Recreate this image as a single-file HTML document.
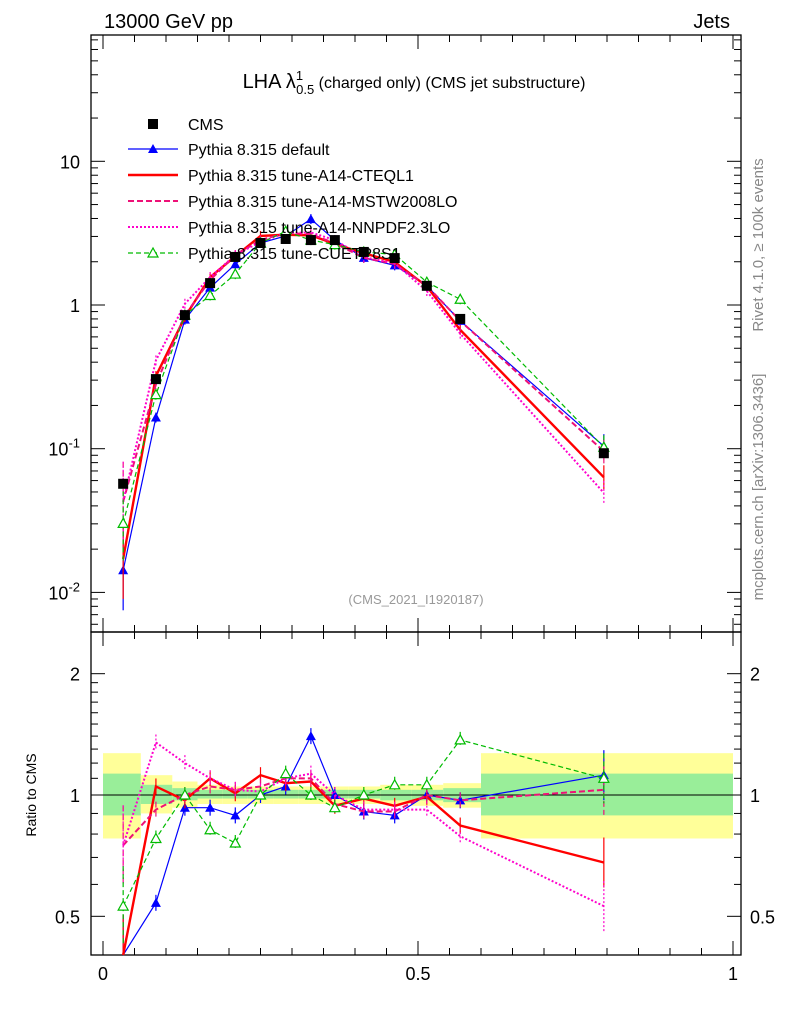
<!DOCTYPE html>
<html><head><meta charset="utf-8"><style>
body{margin:0;background:#fff;font-family:"Liberation Sans",sans-serif}
svg text{font-family:"Liberation Sans",sans-serif}
</style></head><body>
<svg id="c" width="786" height="1024" xmlns="http://www.w3.org/2000/svg">
<text x="104" y="28" font-size="20">13000 GeV pp</text>
<text x="730" y="28" font-size="20" text-anchor="end">Jets</text>
<text x="414" y="88" font-size="20" text-anchor="middle">LHA λ<tspan font-size="13" dy="-8">1</tspan><tspan font-size="13" dx="-7" dy="14">0.5</tspan><tspan font-size="16" dy="-6"> (charged only) (CMS jet substructure)</tspan></text>
<text x="416" y="604" font-size="13" fill="#999" text-anchor="middle">(CMS_2021_I1920187)</text>
<text transform="translate(763,245) rotate(-90)" font-size="15" fill="#888" text-anchor="middle">Rivet 4.1.0, ≥ 100k events</text>
<text transform="translate(763,487) rotate(-90)" font-size="15" fill="#888" text-anchor="middle">mcplots.cern.ch [arXiv:1306.3436]</text>
<text transform="translate(36,795) rotate(-90)" font-size="14" text-anchor="middle">Ratio to CMS</text>
<g id="g"></g>
</svg>
<script>
const xCenters=[0.032,0.084,0.13,0.17,0.21,0.25,0.29,0.33,0.368,0.414,0.463,0.514,0.567,0.795];
const binEdges=[0,0.06,0.11,0.15,0.19,0.23,0.27,0.31,0.35,0.39,0.44,0.49,0.54,0.6,1.0];
const cmsValues=[0.057,0.305,0.85,1.42,2.16,2.7,2.88,2.83,2.83,2.34,2.12,1.36,0.8,0.093];
const bandYellowHi=[1.27,1.12,1.08,1.06,1.05,1.05,1.05,1.05,1.05,1.05,1.06,1.06,1.07,1.27];
const bandYellowLo=[0.78,0.9,0.93,0.95,0.95,0.95,0.95,0.95,0.95,0.95,0.95,0.94,0.93,0.78];
const bandGreenHi=[1.13,1.06,1.04,1.03,1.03,1.03,1.03,1.03,1.03,1.03,1.03,1.03,1.04,1.13];
const bandGreenLo=[0.89,0.95,0.97,0.98,0.98,0.98,0.98,0.98,0.98,0.98,0.97,0.97,0.96,0.89];
const ratioDefault=[0.25,0.54,0.93,0.93,0.89,1.0,1.05,1.4,1.0,0.91,0.89,1.0,0.97,1.12];
const ratioCTEQ=[0.3,1.05,0.97,1.1,1.01,1.12,1.07,1.08,0.94,0.98,0.94,0.99,0.84,0.68];
const ratioMSTW=[0.75,0.92,1.0,1.05,1.03,1.05,1.1,1.1,0.95,0.91,0.91,1.0,0.97,1.03];
const ratioNNPDF=[0.75,1.35,1.2,1.1,1.03,1.02,1.1,1.13,1.0,0.92,0.92,0.92,0.79,0.53];
const ratioCP5=[0.53,0.78,1.0,0.82,0.76,1.0,1.13,1.0,0.93,1.0,1.06,1.06,1.37,1.1];
const legendLabels=["CMS","Pythia 8.315 default","Pythia 8.315 tune-A14-CTEQL1","Pythia 8.315 tune-A14-MSTW2008LO","Pythia 8.315 tune-A14-NNPDF2.3LO","Pythia 8.315 tune-CUETP8S1"];

const NS="http://www.w3.org/2000/svg",G=document.getElementById('g');
const X=x=>103+630*x;
const Y=v=>305-143.7*Math.log10(v);
const R=r=>Math.min(955,Math.max(632,795-403*Math.log10(r)));
function el(t,a,name,p){const e=document.createElementNS(NS,t);for(const k in a)e.setAttribute(k,a[k]);


(p||G).appendChild(e);return e;}
for(let i=0;i<cmsValues.length;i++){
 el('rect',{x:X(binEdges[i]),width:X(binEdges[i+1])-X(binEdges[i]),y:R(bandYellowHi[i]),height:R(bandYellowLo[i])-R(bandYellowHi[i]),fill:'#ffff99'},'band-yellow');
 el('rect',{x:X(binEdges[i]),width:X(binEdges[i+1])-X(binEdges[i]),y:R(bandGreenHi[i]),height:R(bandGreenLo[i])-R(bandGreenHi[i]),fill:'#99ee99'},'band-green');
}
el('line',{x1:91,x2:741,y1:795,y2:795,stroke:'#000'},'ratio-unity-line');
el('rect',{x:91,y:35,width:650,height:597,fill:'none',stroke:'#000','stroke-width':1.3},'main-frame');
el('rect',{x:91,y:632,width:650,height:323,fill:'none',stroke:'#000','stroke-width':1.3},'ratio-frame');
for(let k=0;k<=20;k++){const x=X(k*0.05),L=k%10==0?14:7;
 for(const [y0,d] of [[632,-1],[955,-1],[35,1],[632,1]]) el('line',{x1:x,x2:x,y1:y0,y2:y0+d*L,stroke:'#000'},'x-tick');}
[['0',0],['0.5',0.5],['1',1]].forEach(([t,v])=>{const e=el('text',{x:X(v),y:980,'font-size':18,'text-anchor':'middle'},'x-tick-label');e.textContent=t;});
for(let d=-3;d<=1;d++)for(let m=1;m<10;m++){const v=m*Math.pow(10,d),y=Y(v);if(y<35||y>632)continue;const L=m==1?14:7;
 el('line',{x1:91,x2:91+L,y1:y,y2:y,stroke:'#000'},'y-tick');el('line',{x1:741,x2:741-L,y1:y,y2:y,stroke:'#000'},'y-tick');}
[['10',10],['1',1]].forEach(([t,v])=>{const e=el('text',{x:80,y:Y(v)+7,'font-size':18,'text-anchor':'end'},'y-tick-label');e.textContent=t;});
[[-1,0.1],[-2,0.01]].forEach(([p,v])=>{const e=el('text',{x:80,y:Y(v)+7,'font-size':18,'text-anchor':'end'},'y-tick-label');e.innerHTML='10<tspan font-size="13" dy="-8">'+p+'</tspan>';});
[0.4,0.5,0.6,0.7,0.8,0.9,1,2].forEach(v=>{const y=795-403*Math.log10(v);if(y>955)return;const L=(v==1||v==2||v==0.5)?14:7;
 el('line',{x1:91,x2:91+L,y1:y,y2:y,stroke:'#000'},'ratio-tick');el('line',{x1:741,x2:741-L,y1:y,y2:y,stroke:'#000'},'ratio-tick');});
for(let v=1.1;v<2;v+=0.1){const y=795-403*Math.log10(v);el('line',{x1:91,x2:98,y1:y,y2:y,stroke:'#000'},'ratio-tick');el('line',{x1:741,x2:734,y1:y,y2:y,stroke:'#000'},'ratio-tick');}
[['2',2],['1',1],['0.5',0.5]].forEach(([t,v])=>{const y=795-403*Math.log10(v);
 let e=el('text',{x:80,y:y+7,'font-size':18,'text-anchor':'end'},'ratio-tick-label');e.textContent=t;
 e=el('text',{x:750,y:y+7,'font-size':18},'ratio-tick-label-right');e.textContent=t;});
const series=[
 {r:ratioDefault,c:'#0000ff',w:1.2,d:'',m:'tri',name:'default'},
 {r:ratioCTEQ,c:'#ff0000',w:2.4,d:'',m:'',name:'cteql1'},
 {r:ratioMSTW,c:'#ee1177',w:2,d:'6,3',m:'',name:'mstw2008lo'},
 {r:ratioNNPDF,c:'#ff00cc',w:2,d:'2,2',m:'',name:'nnpdf23lo'},
 {r:ratioCP5,c:'#00bb00',w:1.2,d:'5,3',m:'otri',name:'cuetp8s1'}];
function marker(t,x,y,c,name){
 if(t=='tri')el('polygon',{points:`${x},${y-5} ${x-5},${y+4} ${x+5},${y+4}`,fill:c},name);
 else if(t=='otri')el('polygon',{points:`${x},${y-5} ${x-5},${y+4} ${x+5},${y+4}`,fill:'#fff',stroke:c,'stroke-width':1.2},name);
 else if(t=='sq')el('rect',{x:x-5,y:y-5,width:10,height:10,fill:'#000'},name);}
series.forEach(s=>{
 const pm=s.r.map((r,i)=>[X(xCenters[i]),Math.min(632,Y(r*cmsValues[i]))]);
 const pr=s.r.map((r,i)=>[X(xCenters[i]),R(r)]);
 el('polyline',{points:pm.map(p=>p.join(',')).join(' '),fill:'none',stroke:s.c,'stroke-width':s.w,'stroke-dasharray':s.d},'line-'+s.name);
 el('polyline',{points:pr.map(p=>p.join(',')).join(' '),fill:'none',stroke:s.c,'stroke-width':s.w,'stroke-dasharray':s.d},'ratio-line-'+s.name);
 pm.forEach(([x,y],i)=>{const e=i==0?40:(i==13?12:5);el('line',{x1:x,x2:x,y1:y-e,y2:Math.min(632,y+e),stroke:s.c,'stroke-width':1.2,'stroke-dasharray':s.d},'errbar-'+s.name);if(s.m)marker(s.m,x,y,s.c,'marker-'+s.name);});
 pr.forEach(([x,y],i)=>{const e=i==0?40:(i==13?25:8);el('line',{x1:x,x2:x,y1:Math.max(632,y-e),y2:Math.min(955,y+e),stroke:s.c,'stroke-width':1.2,'stroke-dasharray':s.d},'ratio-errbar-'+s.name);if(s.m&&y<955)marker(s.m,x,y,s.c,'ratio-marker-'+s.name);});
});
cmsValues.forEach((v,i)=>marker('sq',X(xCenters[i]),Y(v),'#000','cms-point'));
const ly=[124,149,175,201,227,253];
legendLabels.forEach((t,i)=>{
 const y=ly[i];
 if(i==0)marker('sq',153,y,'#000','legend-cms-marker');
 else{const s=series[i-1];el('line',{x1:128,x2:178,y1:y,y2:y,stroke:s.c,'stroke-width':s.w,'stroke-dasharray':s.d},'legend-line-'+s.name);if(s.m)marker(s.m,153,y,s.c,'legend-marker-'+s.name);}
 const e=el('text',{x:188,y:y+6,'font-size':16},'legend-entry');e.textContent=t;});
</script>
</body></html>
